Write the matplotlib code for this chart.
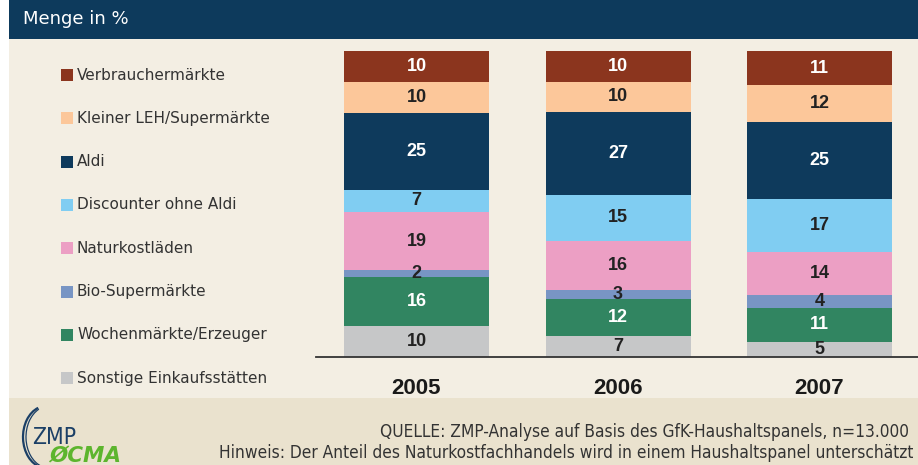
import matplotlib
matplotlib.use("Agg")
import matplotlib.pyplot as plt
from matplotlib.patches import Rectangle, Arc
import numpy as np

years = ["2005", "2006", "2007"]
categories = ["Sonstige Einkaufsstätten", "Wochenmärkte/Erzeuger", "Bio-Supermärkte",
              "Naturkostläden", "Discounter ohne Aldi", "Aldi",
              "Kleiner LEH/Supermärkte", "Verbrauchermärkte"]
sonstige = [10, 7, 5]
wochen = [16, 12, 11]
bio = [2, 3, 4]
naturkost = [19, 16, 14]
discounter = [7, 15, 17]
aldi = [25, 27, 25]
kleiner = [10, 10, 12]
verbraucher = [10, 10, 11]
series = [sonstige, wochen, bio, naturkost, discounter, aldi, kleiner, verbraucher]

colors = ["#C6C7C8", "#318561", "#7895C4", "#EC9FC4", "#80CDF2", "#0E3A5C",
          "#FCC79A", "#8B351E"]
text_colors = ["#222222", "white", "#222222", "#222222", "#222222", "white",
               "#222222", "white"]

W, H = 918, 465
fig = plt.figure(figsize=(W / 100, H / 100), dpi=100)
fig.patch.set_facecolor("white")
num_font = ["Liberation Sans", "DejaVu Sans"]

# overlay axes in pixel coordinates for decorations
ov = fig.add_axes([0, 0, 1, 1], zorder=-5)
ov.set_xlim(0, W)
ov.set_ylim(H, 0)
ov.axis("off")
ov.add_patch(Rectangle((9, 39), W, 398 - 39, color="#F3EEE3", lw=0))
ov.add_patch(Rectangle((9, 398), W, H - 398, color="#EAE2CE", lw=0))
ov.add_patch(Rectangle((9, 0), W, 39, color="#0D3A5C", lw=0))
ov.text(23, 19, "Menge in %", color="white", fontsize=13, va="center", ha="left")

# legend
for i, cat in enumerate(reversed(categories)):
    yc = 75 + i * 43.3
    idx = len(categories) - 1 - i
    ov.add_patch(Rectangle((61, yc - 6), 12, 12, color=colors[idx], lw=0))
    ov.text(77, yc, cat, fontsize=11, color="#333333", va="center", ha="left")

# footer
ov.text(380, 432, "QUELLE: ZMP-Analyse auf Basis des GfK-Haushaltspanels, n=13.000",
        fontsize=12.4, fontstretch="condensed", color="#333333", va="center", ha="left")
ov.text(219, 453, "Hinweis: Der Anteil des Naturkostfachhandels wird in einem Haushaltspanel unterschätzt",
        fontsize=12.4, fontstretch="condensed", color="#333333", va="center", ha="left")

# logo
ov.add_patch(Arc((46, 437), 46, 62, theta1=100, theta2=255, color="#1B3F66", lw=1.6))
ov.add_patch(Arc((49, 437), 46, 62, theta1=105, theta2=250, color="#1B3F66", lw=0.9))
ov.text(32, 437, "ZMP", fontsize=16.5, fontstretch="condensed", color="#1B3F66",
        va="center", ha="left")
ov.text(49, 456, "ØCMA", fontsize=15.5, fontweight="bold", style="italic",
        color="#5DB52E", va="center", ha="left")

# axes for bars
ax_left, ax_right = 316, 918
ax_top, ax_bot = 51, 357
ax = fig.add_axes([ax_left / W, 1 - ax_bot / H, (ax_right - ax_left) / W, (ax_bot - ax_top) / H])
ax.patch.set_alpha(0)
spacing = 201.5
c0 = 416.5
ax.set_xlim((ax_left - c0) / spacing, (ax_right - c0) / spacing)
ax.set_ylim(0, 100)

data = np.array(series, dtype=float)
totals = data.sum(axis=0)
norm = data / totals * 100
x = np.arange(len(years))
bottom = np.zeros(len(years))
for i, (vals, nvals) in enumerate(zip(data, norm)):
    ax.bar(x, nvals, bottom=bottom, width=145 / spacing, color=colors[i], linewidth=0)
    for j in range(len(years)):
        ax.text(x[j], bottom[j] + nvals[j] / 2, f"{int(vals[j])}", ha="center", va="center",
                color=text_colors[i], fontsize=13, fontweight="bold", family=num_font)
    bottom += nvals

for s in ["top", "right", "left"]:
    ax.spines[s].set_visible(False)
ax.spines["bottom"].set_color("#333333")
ax.spines["bottom"].set_linewidth(1.3)
ax.set_yticks([])
ax.set_xticks(x)
ax.set_xticklabels(years, fontsize=16, fontweight="bold", family=num_font, color="#1a1a1a")
ax.tick_params(axis="x", length=0, pad=15)

fig.savefig("out.png", dpi=100)
